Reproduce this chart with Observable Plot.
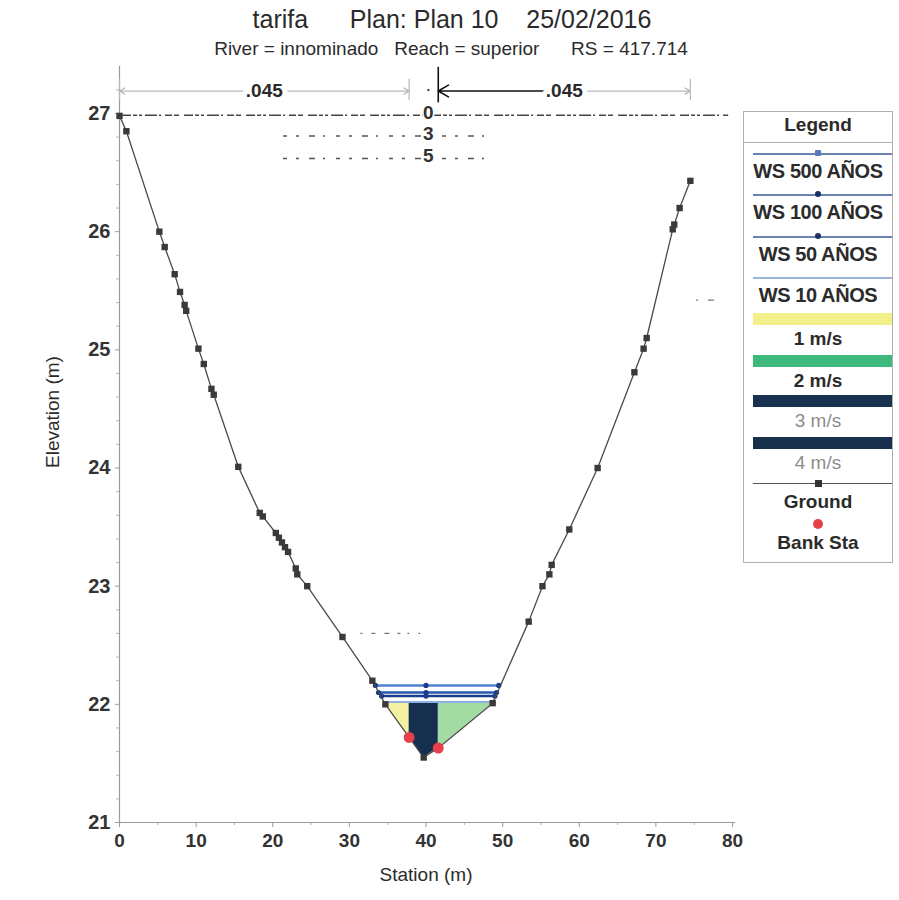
<!DOCTYPE html>
<html><head><meta charset="utf-8">
<script src="https://cdn.jsdelivr.net/npm/d3@7"></script>
<script src="https://cdn.jsdelivr.net/npm/@observablehq/plot@0.6"></script>
<style>
body{margin:0;background:#fff;font-family:"Liberation Sans",Arial,sans-serif;}
#wrap{position:relative;width:899px;height:900px;overflow:hidden;background:#fff}
#head{position:relative;height:55px}
.t{position:absolute;white-space:pre;color:#2b2b2b;transform:translate(-50%,-50%);line-height:1}
.lg{position:absolute}
</style></head><body>
<div id="wrap"><div id="head"></div><div id="chart"></div></div>
<script>
// ---------- data ----------
const titleText = "tarifa      Plan: Plan 10    25/02/2016";
const subtitleText = "River = innominado   Reach = superior      RS = 417.714";
const xLabel = "Station (m)";
const yLabel = "Elevation (m)";

const groundX = [0, 0.9, 5.2, 5.9, 7.2, 7.9, 8.5, 8.7, 10.3, 11.0, 12.0, 12.3, 15.5, 18.3, 18.7, 20.4, 20.8, 21.2, 21.6, 22.0, 23.0, 23.2, 24.5, 29.1, 33.0, 34.7, 37.8, 39.7, 41.6, 48.7, 53.4, 55.2, 56.1, 56.4, 58.7, 62.4, 67.2, 68.4, 68.8, 72.2, 72.4, 73.1, 74.5];
const groundY = [26.98, 26.85, 26.0, 25.87, 25.64, 25.49, 25.38, 25.33, 25.01, 24.88, 24.67, 24.62, 24.01, 23.62, 23.59, 23.45, 23.41, 23.37, 23.33, 23.29, 23.15, 23.1, 23.0, 22.57, 22.2, 22.0, 21.72, 21.55, 21.63, 22.01, 22.7, 23.0, 23.1, 23.18, 23.48, 24.0, 24.81, 25.01, 25.1, 26.02, 26.06, 26.2, 26.43];

const bankX = [37.8, 41.6];
const bankY = [21.72, 21.63];

const wsNames = ["WS 500 AÑOS", "WS 100 AÑOS", "WS 50 AÑOS", "WS 10 AÑOS"];
const wsElev  = [22.16, 22.10, 22.07, 22.02];
const wsLeft  = [33.4, 33.8, 34.2, 34.7];
const wsRight = [49.5, 49.2, 49.0, 48.7];
const wsCenter = 40.0;

const velLabels = ["1 m/s", "2 m/s", "3 m/s", "4 m/s"];
const velFrom = [34.7, 41.6, 37.8];   // slice start stations (1, 2, 3-4 m/s)
const velTo   = [37.8, 48.7, 41.6];   // slice end stations

const nValues = [".045", ".045"];
const nFrom = [0, 41.6];
const nTo   = [37.8, 74.5];
const nElev = 27.19;

const levelLabels = ["0", "3", "5"];
const levelElev   = [26.985, 26.81, 26.62];
const levelFrom   = [0.4, 21.4, 21.4];
const levelTo     = [79.5, 48.7, 48.7];
const levelLabelX = 40.3;

const xTicks = [0, 10, 20, 30, 40, 50, 60, 70, 80];
const xMinor = [5, 15, 25, 35, 45, 55, 65, 75];
const yTicks = [21, 22, 23, 24, 25, 26, 27];
const yMinor = [21.2, 21.4, 21.6, 21.8, 22.2, 22.4, 22.6, 22.8, 23.2, 23.4, 23.6, 23.8, 24.2, 24.4, 24.6, 24.8, 25.2, 25.4, 25.6, 25.8, 26.2, 26.4, 26.6, 26.8, 27.2];
const yTop = 27.4;
const xRight = 80.4;

// ---------- styles ----------
const wsColors = ["#4f7fcf", "#2a58b0", "#1c3c8c", "#8eb0e2"];
const velFillChart = ["#f4f1a2", "#a3dca2", "#162f4e"];
const legendVelColors = ["#f3f08c", "#3eb97c", "#18324f", "#18304c"];
const axisGray = "#9a9a9a";
const textCol = "#2b2b2b";

// ---------- build tables ----------
const ground = groundX.map((x, i) => ({x, y: groundY[i]}));
const banks = bankX.map((x, i) => ({x, y: bankY[i]}));
const ws = wsNames.map((name, i) => ({name, elev: wsElev[i], left: wsLeft[i], right: wsRight[i], color: wsColors[i]}));
const levels = levelLabels.map((label, i) => ({label, elev: levelElev[i], from: levelFrom[i], to: levelTo[i]}));

const font = "Liberation Sans, Arial, sans-serif";
const intFmt = d => d3.format("d")(d);

const marks = [];
// axes
marks.push(Plot.axisY({ticks: yMinor, tickSize: 3, tickFormat: () => "", stroke: "#b5b5b5", label: null}));
marks.push(Plot.axisY({ticks: yTicks, tickSize: 4, tickPadding: 5, tickFormat: intFmt, stroke: axisGray, fontSize: 20, fontWeight: "bold", fill: "#333", label: null}));
marks.push(Plot.axisX({ticks: xMinor, tickSize: 3, tickFormat: () => "", stroke: "#b5b5b5", label: null}));
marks.push(Plot.axisX({ticks: xTicks, tickSize: 5, tickPadding: 6, tickFormat: intFmt, stroke: axisGray, fontSize: 19, fontWeight: "bold", fill: "#333", label: null}));
marks.push(Plot.ruleX([0], {y1: 21, y2: yTop, stroke: axisGray, strokeWidth: 1.2}));
marks.push(Plot.ruleY([21], {x1: 0, x2: xRight, stroke: axisGray, strokeWidth: 1.2}));

// velocity fills
velFrom.forEach((a, i) => {
  marks.push(Plot.areaY(ground.filter(d => d.x >= a && d.x <= velTo[i]), {x: "x", y1: "y", y2: wsElev[3], fill: velFillChart[i]}));
});

// water surfaces
ws.forEach((w, i) => {
  marks.push(Plot.ruleY([w], {y: "elev", x1: "left", x2: "right", stroke: w.color, strokeWidth: i === 3 ? 2 : 2.6}));
  if (i < 3) {
    marks.push(Plot.dot([w.left, wsCenter, w.right], {x: d => d, y: () => w.elev, r: 2.6, fill: wsColors[2], stroke: "none"}));
  }
});

// ground
marks.push(Plot.line(ground, {x: "x", y: "y", stroke: "#4a4a4a", strokeWidth: 1.3}));
marks.push(Plot.dot(ground, {x: "x", y: "y", symbol: "square", r: 3.6, fill: "#3a3a3a", stroke: "none"}));
marks.push(Plot.dot(banks, {x: "x", y: "y", r: 5.5, fill: "#e6404a", stroke: "none"}));

// n-value arrows
nValues.forEach((v, i) => {
  const mid = (nFrom[i] + nTo[i]) / 2;
  marks.push(Plot.arrow([0], {x1: mid, x2: nFrom[i], y1: nElev, y2: nElev, stroke: i === 1 ? "#111" : "#b8b8b8", strokeWidth: i === 1 ? 1.6 : 1.3, headLength: i === 1 ? 11 : 7}));
  marks.push(Plot.arrow([0], {x1: mid, x2: nTo[i], y1: nElev, y2: nElev, stroke: "#b8b8b8", strokeWidth: 1.3, headLength: 7}));
  marks.push(Plot.text([v], {x: mid, y: nElev, text: d => d, fontSize: 19, fontWeight: "bold", fill: "#2a2a2a", stroke: "white", strokeWidth: 10, paintOrder: "stroke"}));
});
marks.push(Plot.ruleX([nFrom[0], nTo[0], nTo[1]], {y1: nElev - 0.08, y2: nElev + 0.1, stroke: "#b8b8b8", strokeWidth: 1.2}));
marks.push(Plot.ruleX([nFrom[1]], {y1: nElev - 0.1, y2: nElev + 0.2, stroke: "#111", strokeWidth: 1.6}));

// garbled level rows (0, 3, 5)
marks.push(Plot.ruleY([levels[0]], {y: "elev", x1: "from", x2: "to", stroke: "#444", strokeWidth: 1.6, strokeDasharray: "9,2,4,2,3,3,12,2,2,4,7,2,5,5"}));
marks.push(Plot.ruleY(levels.slice(1), {y: "elev", x1: "from", x2: "to", stroke: "#555", strokeWidth: 1.5, strokeDasharray: "4,9,3,10,6,8,2,11"}));
marks.push(Plot.text(levels, {x: levelLabelX, y: "elev", text: "label", fontSize: 19, fontWeight: "bold", fill: "#333", stroke: "white", strokeWidth: 3, paintOrder: "stroke", dy: -2}));
marks.push(Plot.text(["."], {x: levelLabelX, y: nElev, text: d => d, fontSize: 13, fontWeight: "bold", fill: "#333", dy: -4}));

// small stray dashes
marks.push(Plot.ruleY([22.6], {x1: 31.5, x2: 39.3, stroke: "#777", strokeWidth: 1.3, strokeDasharray: "2,9,4,9,5,8,3,7"}));
marks.push(Plot.ruleY([25.42], {x1: 75.3, x2: 77.8, stroke: "#777", strokeWidth: 1.3, strokeDasharray: "2,10,6"}));

// axis titles
marks.push(Plot.text([xLabel], {frameAnchor: "bottom", dy: 58, text: d => d, fontSize: 19, fill: textCol}));
marks.push(Plot.text([yLabel], {frameAnchor: "left", dx: -67, rotate: -90, text: d => d, fontSize: 19, fill: textCol}));

const chart = Plot.plot({
  width: 899, height: 845,
  marginLeft: 119, marginRight: 167, marginTop: 58, marginBottom: 78,
  x: {domain: [0, 80]},
  y: {domain: [21, 27]},
  style: {fontFamily: font, background: "transparent", overflow: "visible"},
  marks
});
document.getElementById("chart").appendChild(chart);

// ---------- titles ----------
const wrap = document.getElementById("wrap");
function txt(s, cx, cy, size, extra = "") {
  const d = document.createElement("div");
  d.className = "t";
  d.textContent = s;
  d.style.cssText = `left:${cx}px;top:${cy}px;font-size:${size}px;${extra}`;
  wrap.appendChild(d);
  return d;
}
txt(titleText, 452, 19, 25);
txt(subtitleText, 451, 48, 19);

// ---------- legend (HTML) ----------
function box(l, t, w, h, css) {
  const d = document.createElement("div");
  d.className = "lg";
  d.style.cssText = `left:${l}px;top:${t}px;width:${w}px;height:${h}px;${css}`;
  wrap.appendChild(d);
  return d;
}
const L = 743, R = 893, cx = (L + R) / 2;
box(L, 111, R - L, 452, "border:1.5px solid #b0b0b0;box-sizing:border-box;background:#fff");
txt("Legend", cx, 124, 19, "font-weight:bold");
box(L, 142, R - L, 0, "border-top:1.5px solid #b0b0b0");
const wsLegY = [153, 194, 236, 277];
ws.forEach((w, i) => {
  box(753, wsLegY[i], 139, 0, `border-top:2px solid ${i === 3 ? "#9db5d8" : "#6b82b0"}`);
  if (i < 3) box(cx - 3, wsLegY[i] - 3, 6, 6, `background:${i === 0 ? "#5a78b8" : "#1c2f66"};border-radius:${i === 0 ? 1 : 3}px`);
  txt(w.name, cx, wsLegY[i] + 18, 20, "font-weight:bold;letter-spacing:-0.4px");
});
const velLegY = [313, 355, 395, 437];
velLabels.forEach((v, i) => {
  box(753, velLegY[i], 139, 12, `background:${legendVelColors[i]}`);
  txt(v, cx, velLegY[i] + 25, 19, i >= 2 ? "color:#8c8c8c" : "font-weight:bold");
});
box(753, 483, 139, 0, "border-top:1.5px solid #555");
box(cx - 3, 480, 7, 7, "background:#333");
txt("Ground", cx, 501, 19, "font-weight:bold");
box(cx - 5, 519, 10, 10, "background:#e6404a;border-radius:5px");
txt("Bank Sta", cx, 542, 19, "font-weight:bold");
</script>
</body></html>
